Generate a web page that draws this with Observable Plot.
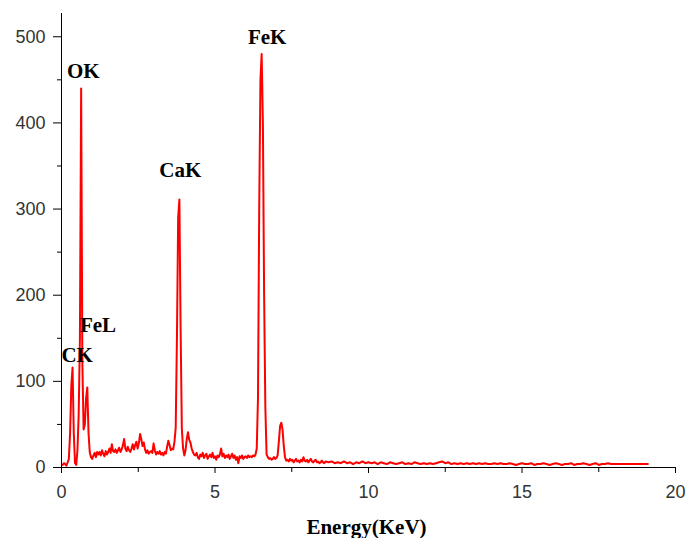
<!DOCTYPE html>
<html>
<head>
<meta charset="utf-8">
<script src="https://cdn.jsdelivr.net/npm/d3@7"></script>
<script src="https://cdn.jsdelivr.net/npm/@observablehq/plot@0.6"></script>
<style>
  html, body { margin: 0; padding: 0; background: #fff; }
  #chart svg { display: block; }
</style>
</head>
<body>
<div id="chart"></div>
<script>
// EDS spectrum channels (keV calibration of the detector channels)
const lowStartKeV = 0.04, lowStepKeV = 0.04;
const countsLow = [
  3,5,4,2,6,10,40,95,116,40,        // 0.04-0.40
  5,3,20,62,150,440,120,44,50,80,   // 0.44-0.80
  93,40,18,12,10,14,17,12,18,15,    // 0.84-1.20
  18,14,20,16,13,19,15,18,22,17,    // 1.24-1.60
  27,19,18,21,17,20,23,18,21,26,    // 1.64-2.00
  33,22,19,24,20,18,22,27,21,26,    // 2.04-2.40
  30,22,28,39,33,25,29,21,17,20,    // 2.44-2.80
  16,18,19,17,28,20,15,18,16,19,    // 2.84-3.20
  15,17,14,18,16,24,31,26,20,22,    // 3.24-3.60
  21,30,46,150,290,311,160,45,22,14,// 3.64-4.00
  20,33,41,32,29,22,18,15,14,17,    // 4.04-4.40
  12,10,15,13,17,11,14,16,10,13,    // 4.44-4.80
  15,12,17,11,13,9,14,12,15,22,     // 4.84-5.20
  13,16,11,14,12,15,10,13,16,11,    // 5.24-5.60
  14,9,12,5,13,11,14,10,12,13,      // 5.64-6.00
  11,14,12,13,12,14,13,15,22,80,    // 6.04-6.40
  300,450,480,400,200,70,15,12,10,11, // 6.44-6.80
  9,10,12,10,11,14,30,48,52,44,     // 6.84-7.20
  25,12,8,9,7,10,8,9,6,8,           // 7.24-7.60
  10,7,8,6,9,7,12,8,7,9,            // 7.64-8.00
  6,8,10,7,6,8,9,6,7,5,             // 8.04-8.40
  6,8,6,5,7                         // 8.44-8.60
];
const highStartKeV = 8.7, highStepKeV = 0.1;
const countsHigh = [
  6,7,5,6,5,7,5,6,4,6,   // 8.7-9.6
  5,7,5,6,5,6,4,6,5,4,   // 9.7-10.6
  6,5,4,5,6,4,5,4,6,5,   // 10.7-11.6
  4,5,4,5,4,5,6,7,5,6,   // 11.7-12.6
  4,5,4,5,4,5,4,5,4,5,   // 12.7-13.6
  4,5,4,4,5,4,5,4,4,5,   // 13.7-14.6
  4,3,4,5,4,4,5,3,4,4,   // 14.7-15.6
  5,4,3,4,5,4,3,4,4,5,   // 15.7-16.6
  3,4,4,5,4,3,4,5,3,4,   // 16.7-17.6
  4,5,4,4,4,4,4,4,4,4,   // 17.7-18.6
  4,4,4,4,4              // 18.7-19.1
];

const xTicks = [0, 5, 10, 15, 20];
const xMinorTicks = [2.5, 7.5, 12.5, 17.5];
const yTicks = [0, 100, 200, 300, 400, 500];
const yMinorTicks = [50, 150, 250, 350, 450];

const peakNames = ["CK", "OK", "FeL", "CaK", "FeK"];
const peakLabelEnergy = [0.51, 0.71, 1.19, 3.87, 6.70];
const peakLabelCounts = [123, 452, 157, 337, 492];

const xTitle = "Energy(KeV)";

const spectrum = [
  ...countsLow.map((c, i) => ({energy: lowStartKeV + i * lowStepKeV, counts: c})),
  ...countsHigh.map((c, i) => ({energy: highStartKeV + i * highStepKeV, counts: c}))
];

const serif = "'Liberation Serif', 'Times New Roman', Times, serif";

const chart = Plot.plot({
  width: 686,
  height: 538,
  marginTop: 13,
  marginBottom: 71,
  marginLeft: 61,
  marginRight: 11,
  style: {
    fontFamily: "'Liberation Sans', Arial, Helvetica, sans-serif",
    background: "#fff",
    color: "#000",
    overflow: "visible"
  },
  x: {domain: [0, 20], label: null},
  y: {domain: [0, 527], label: null},
  marks: [
    Plot.axisX(xTicks, {tickSize: 6, tickPadding: 12, fontSize: 18, fill: "#333", label: null}),
    Plot.axisX(xMinorTicks, {tickSize: 5, text: null, label: null}),
    Plot.axisY(yTicks, {tickSize: 8, tickPadding: 8, fontSize: 18, fill: "#333", label: null}),
    Plot.axisY(yMinorTicks, {tickSize: 4, text: null, label: null}),
    Plot.ruleX([0], {stroke: "#000"}),
    Plot.ruleY([0], {stroke: "#000"}),
    Plot.line(spectrum, {x: "energy", y: "counts", stroke: "#ff0000", strokeWidth: 2}),
    Plot.text(peakNames, {
      x: (d, i) => peakLabelEnergy[i],
      y: (d, i) => peakLabelCounts[i],
      text: d => d,
      fontFamily: serif,
      fontWeight: "bold",
      fontSize: 21,
      fill: "#000",
      textAnchor: "middle",
      lineAnchor: "bottom"
    }),
    Plot.text([xTitle], {
      frameAnchor: "bottom",
      text: d => d,
      dx: -2,
      dy: 66,
      fontFamily: serif,
      fontWeight: "bold",
      fontSize: 21,
      fill: "#000",
      lineAnchor: "bottom"
    })
  ]
});
document.getElementById("chart").appendChild(chart);
</script>
</body>
</html>
